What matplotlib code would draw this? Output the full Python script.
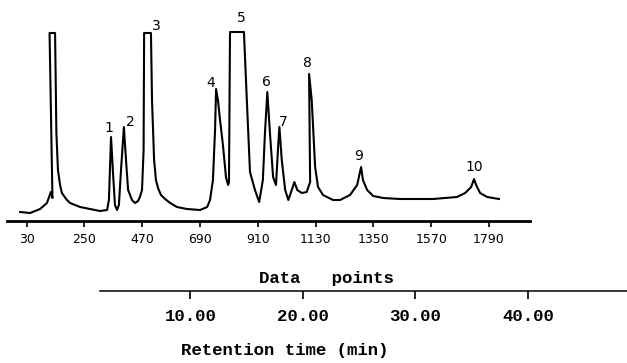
import matplotlib
matplotlib.use("Agg")
import matplotlib.pyplot as plt

# chromatogram trace: data point index vs detector response
data_points = [5, 43, 81, 107, 122, 128, 117, 138, 143, 149, 157, 164, 180, 195, 233, 271, 309, 336,
               343, 351, 359, 366, 374, 381, 389, 400, 408, 416, 431, 442, 454, 461, 469, 475, 477, 503,
               507, 515, 522, 530, 541, 557, 576, 602, 640, 690, 717, 728, 739, 747, 751, 758, 766, 777,
               789, 797, 800, 804, 857, 868, 880, 899, 915, 929, 937, 946, 956, 968, 979, 988, 992, 1001,
               1014, 1026, 1039, 1049, 1060, 1077, 1096, 1109, 1105, 1115, 1128, 1139, 1158, 1196, 1223,
               1261, 1288, 1303, 1310, 1326, 1349, 1387, 1451, 1577, 1668, 1699, 1722, 1733, 1741, 1756,
               1783, 1828]
response = [9, 8, 12, 18, 29, 23, 188, 188, 88, 51, 36, 28, 22, 18, 14, 12, 10, 11,
            21, 84, 46, 16, 11, 16, 51, 94, 61, 31, 21, 18, 20, 24, 31, 71, 188, 188,
            121, 61, 41, 33, 26, 22, 18, 14, 12, 11, 14, 21, 41, 91, 132, 121, 101, 76,
            43, 36, 39, 189, 189, 121, 49, 31, 19, 41, 88, 129, 88, 44, 36, 78, 94, 61,
            31, 21, 31, 39, 31, 28, 29, 39, 147, 121, 54, 34, 26, 21, 21,
            26, 36, 54, 41, 31, 25, 23, 22, 22, 24, 28, 34, 42, 36, 28,
            24, 22]

peak_labels = ["1", "2", "3", "4", "5", "6", "7", "8", "9", "10"]
label_x = [343, 423, 522, 732, 846, 941, 1006, 1097, 1295, 1733]
label_y = [93, 99, 195, 138, 203, 139, 99, 158, 65, 54]

dp_ticks = [30, 250, 470, 690, 910, 1130, 1350, 1570, 1790]
time_ticks = [10, 20, 30, 40]
time_labels = ["10.00", "20.00", "30.00", "40.00"]

fig = plt.figure(figsize=(6.27, 3.63), dpi=100)

ax = fig.add_axes([7 / 627, 1 - 221 / 363, 523 / 627, 221 / 363])
ax.plot(data_points, response, color="black", lw=1.5)
for t, x, y in zip(peak_labels, label_x, label_y):
    ax.text(x, y, t, ha="center", va="center", fontsize=10, family="DejaVu Sans")
ax.set_xlim(-45, 1946)
ax.set_ylim(0, 221)
for s in ["top", "right", "left"]:
    ax.spines[s].set_visible(False)
ax.spines["bottom"].set_linewidth(2)
ax.set_yticks([])
ax.set_xticks(dp_ticks)
ax.set_xticklabels([str(v) for v in dp_ticks], fontsize=9, family="DejaVu Sans")
ax.tick_params(axis="x", direction="out", length=4.5, width=1.2, pad=4)

# second scale: retention time
ax2 = fig.add_axes([100 / 627, 1 - 291 / 363, 527 / 627, 0.001])
ax2.set_xlim(1.96, 48.8)
for s in ["top", "right", "left"]:
    ax2.spines[s].set_visible(False)
ax2.spines["bottom"].set_linewidth(1.1)
ax2.set_yticks([])
ax2.set_xticks(time_ticks)
ax2.set_xticklabels(time_labels, fontsize=12.5, family="Liberation Mono", weight="bold")
ax2.tick_params(axis="x", direction="out", length=6, width=1.2, pad=7)

fig.text(326 / 627, 1 - 278 / 363, "Data   points", ha="center", va="center",
         fontsize=12.5, family="Liberation Mono", weight="bold")
fig.text(285 / 627, 1 - 351 / 363, "Retention time (min)", ha="center", va="center",
         fontsize=12.5, family="Liberation Mono", weight="bold")

fig.savefig("out.png", dpi=100, facecolor="white")
